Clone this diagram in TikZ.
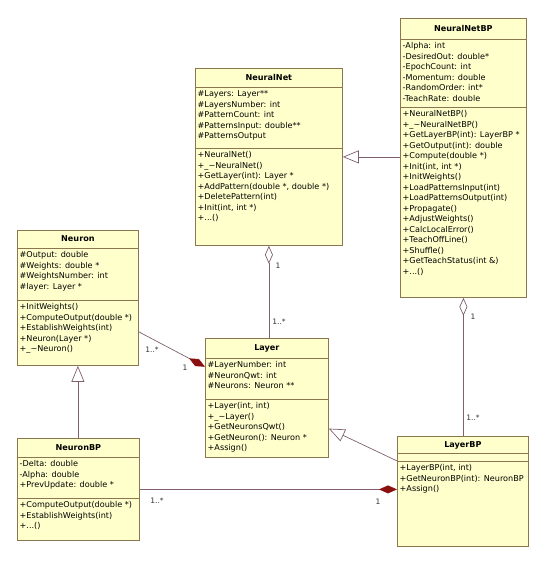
\documentclass[tikz,border=0pt]{standalone}
\usepackage{fontspec}
\setmainfont{DejaVu Sans}
\usetikzlibrary{arrows.meta,calc}
\definecolor{boxfill}{HTML}{FFFFCC}
\definecolor{boxline}{HTML}{8C7650}
\definecolor{linkline}{HTML}{806070}
\definecolor{compred}{HTML}{8B1010}
\newcommand{\umlfont}{\fontsize{8.1}{10.5}\selectfont}
\newcommand{\tld}{\_\textasciitilde}

\begin{document}
\begin{tikzpicture}[x=1pt,y=-1pt,
  cls/.style={draw=boxline,fill=boxfill,line width=0.8pt,anchor=north west,inner sep=0pt},
  ttl/.style={font=\umlfont\bfseries,inner sep=0pt,anchor=mid},
  mem/.style={font=\umlfont,align=left,anchor=north west,inner xsep=2.5pt,inner ysep=3.5pt},
  sep/.style={draw=boxline,line width=0.8pt},
  link/.style={draw=linkline,line width=0.7pt},
  gen/.style={link,-{Triangle[open,length=16pt,width=13pt,fill=white]}},
  agg/.style={link,-{Diamond[open,length=18pt,width=8pt,fill=white]}},
  comp/.style={link,-{Diamond[length=18pt,width=8pt,color=compred]}},
  mult/.style={font=\fontsize{7.5}{9}\selectfont,inner sep=0pt,text=black!80}]
\useasboundingbox (0,0) rectangle (546,564);

% NeuralNetBP
\node[cls,minimum width=126,minimum height=279] (nnbp) at (400,18) {};
\node[ttl] (nnbp-t) at ($(nnbp.north)+(0,10.5)$) {NeuralNetBP};
\draw[sep] ($(nnbp.north west)+(0,21)$) coordinate (nnbp-s1) -- (nnbp-s1 -| nnbp.east);
\node[mem] (nnbp-a) at (nnbp-s1) {-Alpha: int\\ -DesiredOut: double*\\ -EpochCount: int\\ -Momentum: double\\ -RandomOrder: int*\\ -TeachRate: double};
\draw[sep] ($(nnbp.north west)+(0,89)$) coordinate (nnbp-s2) -- (nnbp-s2 -| nnbp.east);
\node[mem] (nnbp-m) at (nnbp-s2) {+NeuralNetBP()\\ +\tld NeuralNetBP()\\ +GetLayerBP(int): LayerBP *\\ +GetOutput(int): double\\ +Compute(double *)\\ +Init(int, int *)\\ +InitWeights()\\ +LoadPatternsInput(int)\\ +LoadPatternsOutput(int)\\ +Propagate()\\ +AdjustWeights()\\ +CalcLocalError()\\ +TeachOffLine()\\ +Shuffle()\\ +GetTeachStatus(int \&)\\ +...()};

% NeuralNet
\node[cls,minimum width=147,minimum height=177] (nnet) at (195,68) {};
\node[ttl] (nnet-t) at ($(nnet.north)+(0,9.5)$) {NeuralNet};
\draw[sep] ($(nnet.north west)+(0,19)$) coordinate (nnet-s1) -- (nnet-s1 -| nnet.east);
\node[mem] (nnet-a) at (nnet-s1) {\#Layers: Layer**\\ \#LayersNumber: int\\ \#PatternCount: int\\ \#PatternsInput: double**\\ \#PatternsOutput};
\draw[sep] ($(nnet.north west)+(0,80)$) coordinate (nnet-s2) -- (nnet-s2 -| nnet.east);
\node[mem] (nnet-m) at (nnet-s2) {+NeuralNet()\\ +\tld NeuralNet()\\ +GetLayer(int): Layer *\\ +AddPattern(double *, double *)\\ +DeletePattern(int)\\ +Init(int, int *)\\ +...()};

% Neuron
\node[cls,minimum width=121,minimum height=135] (neuron) at (17,230) {};
\node[ttl] (neuron-t) at ($(neuron.north)+(0,9)$) {Neuron};
\draw[sep] ($(neuron.north west)+(0,18)$) coordinate (neuron-s1) -- (neuron-s1 -| neuron.east);
\node[mem] (neuron-a) at (neuron-s1) {\#Output: double\\ \#Weights: double *\\ \#WeightsNumber: int\\ \#layer: Layer *};
\draw[sep] ($(neuron.north west)+(0,70)$) coordinate (neuron-s2) -- (neuron-s2 -| neuron.east);
\node[mem] (neuron-m) at (neuron-s2) {+InitWeights()\\ +ComputeOutput(double *)\\ +EstablishWeights(int)\\ +Neuron(Layer *)\\ +\tld Neuron()};

% Layer
\node[cls,minimum width=123,minimum height=119] (layer) at (205,338) {};
\node[ttl] (layer-t) at ($(layer.north)+(0,10)$) {Layer};
\draw[sep] ($(layer.north west)+(0,20)$) coordinate (layer-s1) -- (layer-s1 -| layer.east);
\node[mem] (layer-a) at (layer-s1) {\#LayerNumber: int\\ \#NeuronQwt: int\\ \#Neurons: Neuron **};
\draw[sep] ($(layer.north west)+(0,61)$) coordinate (layer-s2) -- (layer-s2 -| layer.east);
\node[mem] (layer-m) at (layer-s2) {+Layer(int, int)\\ +\tld Layer()\\ +GetNeuronsQwt()\\ +GetNeuron(): Neuron *\\ +Assign()};

% NeuronBP
\node[cls,minimum width=122,minimum height=102] (nbp) at (17,438) {};
\node[ttl] (nbp-t) at ($(nbp.north)+(0,9.5)$) {NeuronBP};
\draw[sep] ($(nbp.north west)+(0,19)$) coordinate (nbp-s1) -- (nbp-s1 -| nbp.east);
\node[mem] (nbp-a) at (nbp-s1) {-Delta: double\\ -Alpha: double\\ +PrevUpdate: double *};
\draw[sep] ($(nbp.north west)+(0,60)$) coordinate (nbp-s2) -- (nbp-s2 -| nbp.east);
\node[mem] (nbp-m) at (nbp-s2) {+ComputeOutput(double *)\\ +EstablishWeights(int)\\ +...()};

% LayerBP
\node[cls,minimum width=131,minimum height=110] (lbp) at (397,436) {};
\node[ttl] (lbp-t) at ($(lbp.north)+(0,8.5)$) {LayerBP};
\draw[sep] ($(lbp.north west)+(0,17)$) coordinate (lbp-s1) -- (lbp-s1 -| lbp.east);
\draw[sep] ($(lbp.north west)+(0,25)$) coordinate (lbp-s2) -- (lbp-s2 -| lbp.east);
\node[mem] (lbp-m) at (lbp-s2) {+LayerBP(int, int)\\ +GetNeuronBP(int): NeuronBP\\ +Assign()};

% connectors
\draw[gen] (nnbp.west |- nnet.east) -- (nnet.east);
\draw[agg] (nnet.south |- layer.north) -- (nnet.south);
\draw[agg] (nnbp.south |- lbp.north) -- (nnbp.south);
\draw[gen] (neuron.south |- nbp.north) -- (neuron.south);
\draw[comp] ($(neuron.north east)!0.75!(neuron.south east)$) -- ($(layer.north west)!0.24!(layer.south west)$);
\draw[gen] ($(lbp.north west)!0.225!(lbp.south west)$) -- ($(layer.north east)!0.756!(layer.south east)$);
\draw[comp] (nbp.east) -- (nbp.east -| lbp.west);

% multiplicities
\node[mult] (m-nnet) at (278,266) {1};
\node[mult] (m-layer) at (279,322) {1..*};
\node[mult] (m-neuron) at (152,350) {1..*};
\node[mult] (m-layer2) at (185,368) {1};
\node[mult] (m-nbp) at (157,501) {1..*};
\node[mult] (m-lbp) at (378,502) {1};
\node[mult] (m-nnbp) at (473,317) {1};
\node[mult] (m-lbp2) at (473,418) {1..*};
\end{tikzpicture}
\end{document}
